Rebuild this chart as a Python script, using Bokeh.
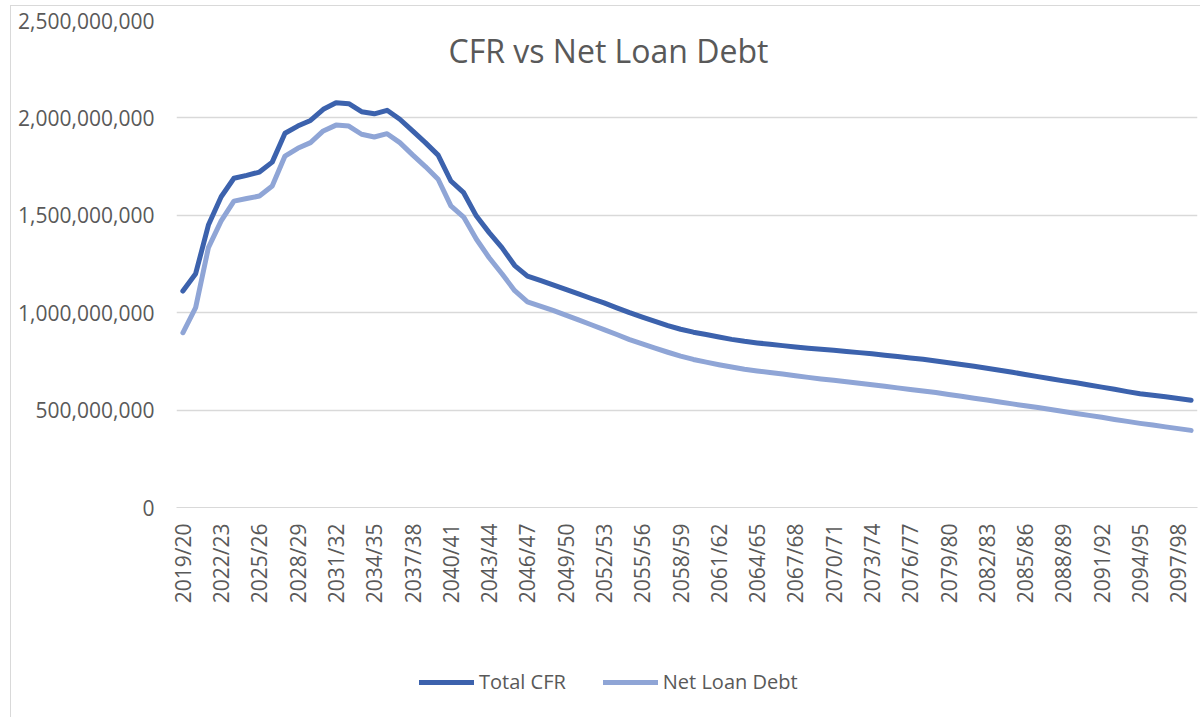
import numpy as np
from bokeh.plotting import figure
from bokeh.layouts import column
from bokeh.models import (Range1d, FixedTicker, NumeralTickFormatter, Legend,
                          LegendItem, Label, ColumnDataSource)
from bokeh.embed import file_html
from bokeh.resources import INLINE

# ---------------- data ----------------
years = [
    "2019/20", "2020/21", "2021/22", "2022/23", "2023/24", "2024/25", "2025/26", "2026/27",
    "2027/28", "2028/29", "2029/30", "2030/31", "2031/32", "2032/33", "2033/34", "2034/35",
    "2035/36", "2036/37", "2037/38", "2038/39", "2039/40", "2040/41", "2041/42", "2042/43",
    "2043/44", "2044/45", "2045/46", "2046/47", "2047/48", "2048/49", "2049/50", "2050/51",
    "2051/52", "2052/53", "2053/54", "2054/55", "2055/56", "2056/57", "2057/58", "2058/59",
    "2059/60", "2060/61", "2061/62", "2062/63", "2063/64", "2064/65", "2065/66", "2066/67",
    "2067/68", "2068/69", "2069/70", "2070/71", "2071/72", "2072/73", "2073/74", "2074/75",
    "2075/76", "2076/77", "2077/78", "2078/79", "2079/80", "2080/81", "2081/82", "2082/83",
    "2083/84", "2084/85", "2085/86", "2086/87", "2087/88", "2088/89", "2089/90", "2090/91",
    "2091/92", "2092/93", "2093/94", "2094/95", "2095/96", "2096/97", "2097/98", "2098/99",
]

# values in millions
total_cfr_m = [
    1111, 1200, 1450, 1595, 1690, 1705, 1722, 1773, 1921, 1958,
    1987, 2044, 2078, 2073, 2032, 2021, 2039, 1993, 1933, 1873,
    1809, 1676, 1616, 1496, 1411, 1334, 1242, 1188, 1166, 1143,
    1120, 1097, 1073, 1050, 1025, 1000, 977, 955, 934, 915,
    900, 888, 875, 863, 853, 845, 838, 831, 824, 818,
    812, 807, 801, 795, 789, 782, 775, 768, 761, 752,
    743, 734, 725, 715, 705, 694, 683, 672, 661, 650,
    640, 629, 618, 607, 595, 584, 576, 568, 560, 551,
]

net_loan_debt_m = [
    897, 1026, 1334, 1471, 1573, 1586, 1599, 1650, 1804, 1844,
    1873, 1933, 1963, 1958, 1916, 1902, 1919, 1873, 1810, 1750,
    1685, 1548, 1491, 1377, 1282, 1200, 1113, 1056, 1034, 1012,
    988, 963, 938, 913, 888, 862, 840, 818, 797, 777,
    760, 746, 733, 721, 710, 701, 693, 685, 676, 668,
    660, 653, 645, 638, 630, 622, 614, 606, 598, 590,
    580, 571, 561, 552, 542, 532, 522, 513, 503, 493,
    483, 473, 463, 452, 442, 432, 423, 414, 405, 396,
]

y_ticks = [0, 500_000_000, 1_000_000_000, 1_500_000_000, 2_000_000_000, 2_500_000_000]
x_label_step = 3

series_names = ["Total CFR", "Net Loan Debt"]
series_colors = ["#3c62ad", "#8fa5d6"]
chart_title = "CFR vs Net Loan Debt"

# ---------------- figure ----------------
FONT = "Open Sans"
TXT = "#595959"
GRID = "#d9d9d9"

idx = np.arange(len(years))
src = ColumnDataSource(dict(
    x=idx,
    cfr=np.array(total_cfr_m, dtype=float) * 1e6,
    nld=np.array(net_loan_debt_m, dtype=float) * 1e6,
))

p = figure(
    frame_width=1021, frame_height=487,
    min_border_left=176, min_border_right=3, min_border_top=20, min_border_bottom=100,
    x_range=Range1d(-0.5, len(years) - 0.5),
    y_range=Range1d(y_ticks[0], y_ticks[-1]),
    output_backend="svg", toolbar_location=None,
)
p.styles = {
    "background": (
        f"linear-gradient({GRID},{GRID}) 10px 5px / 1px 720px no-repeat, "
        f"linear-gradient({GRID},{GRID}) 10px 5px / 1190px 1px no-repeat, white"
    )
}
p.outline_line_color = None
p.background_fill_color = "white"
p.border_fill_color = None

line_kw = dict(line_width=5, line_join="round", line_cap="round")
r1 = p.line("x", "cfr", source=src, line_color=series_colors[0], **line_kw)
r2 = p.line("x", "nld", source=src, line_color=series_colors[1], **line_kw)
p.renderers = [r2, r1]  # dark line on top

# y axis
p.yaxis.ticker = FixedTicker(ticks=y_ticks)
p.yaxis.formatter = NumeralTickFormatter(format="0,0")
p.yaxis.axis_line_color = None
p.yaxis.major_tick_line_color = None
p.yaxis.minor_tick_line_color = None
p.yaxis.major_tick_out = 0
p.yaxis.major_label_standoff = 22
p.yaxis.major_label_text_font = FONT
p.yaxis.major_label_text_font_size = "21px"
p.yaxis.major_label_text_color = TXT

# x axis
xt = list(range(0, len(years), x_label_step))
p.xaxis.ticker = FixedTicker(ticks=xt)
p.xaxis.major_label_overrides = {i: years[i] for i in xt}
p.xaxis.major_label_orientation = np.pi / 2
p.xaxis.axis_line_color = GRID
p.xaxis.major_tick_line_color = None
p.xaxis.minor_tick_line_color = None
p.xaxis.major_tick_out = 0
p.xaxis.major_label_standoff = 16
p.xaxis.major_label_text_font = FONT
p.xaxis.major_label_text_font_size = "21px"
p.xaxis.major_label_text_color = TXT

# grid
p.xgrid.grid_line_color = None
p.ygrid.ticker = FixedTicker(ticks=y_ticks)
p.ygrid.grid_line_color = GRID
p.ygrid.grid_line_width = 1.3

# title inside plot area
title = Label(x=432, y=457, x_units="screen", y_units="screen", text=chart_title,
              text_font=FONT, text_font_size="32px", text_color=TXT,
              text_align="center", text_baseline="middle")
p.add_layout(title)

# ---------------- legend strip ----------------
LEG_H = 110
pl = figure(
    width=1200, height=LEG_H,
    min_border_left=0, min_border_right=0, min_border_top=0, min_border_bottom=0,
    x_range=Range1d(1000, 1001), y_range=Range1d(1e12, 1e12 + 1),
    output_backend="svg", toolbar_location=None,
)
pl.styles = {
    "background": f"linear-gradient({GRID},{GRID}) 10px 0px / 1px {LEG_H}px no-repeat, white"
}
pl.axis.visible = False
pl.grid.visible = False
pl.outline_line_color = None
pl.background_fill_color = None
pl.border_fill_color = None
l1 = pl.line("x", "cfr", source=src, line_color=series_colors[0], **line_kw)
l2 = pl.line("x", "nld", source=src, line_color=series_colors[1], **line_kw)

legend = Legend(items=[LegendItem(label=series_names[0], renderers=[l1]),
                       LegendItem(label=series_names[1], renderers=[l2])],
                orientation="horizontal", location=(243, 22),
                glyph_width=55, glyph_height=24, label_height=24,
                label_standoff=5, spacing=37, padding=0, margin=0,
                border_line_color=None, background_fill_alpha=0,
                label_text_font=FONT, label_text_font_size="20px",
                label_text_color=TXT)
pl.add_layout(legend, "center")

layout = column(p, pl, spacing=0)
open("out.html", "w").write(file_html(layout, INLINE))
